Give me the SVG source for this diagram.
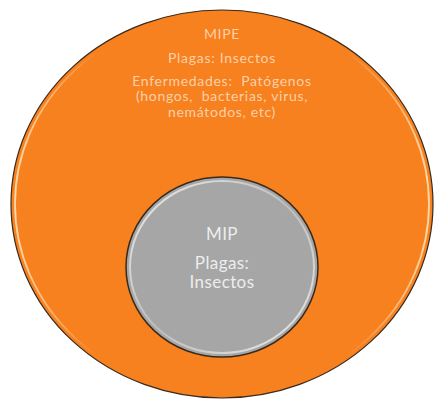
<svg xmlns="http://www.w3.org/2000/svg" width="434" height="400" viewBox="0 0 434 400">
<style>
.t1{font-family:Lato,"Open Sans","Liberation Sans",sans-serif;font-size:14px;letter-spacing:0.7px;fill:#FBD0A8;text-anchor:middle;white-space:pre}
.t2{font-family:Lato,"Open Sans","Liberation Sans",sans-serif;font-size:17px;letter-spacing:0.4px;fill:#EDEDED;text-anchor:middle}
</style>
<defs>
<linearGradient id="hl" x1="0" y1="0" x2="1" y2="0">
<stop offset="0" stop-color="#FFE2B8" stop-opacity="0.9"/>
<stop offset="0.2" stop-color="#FFE2B8" stop-opacity="0"/>
<stop offset="0.8" stop-color="#FFE2B8" stop-opacity="0"/>
<stop offset="1" stop-color="#FFE2B8" stop-opacity="0.9"/>
</linearGradient>
<linearGradient id="hl2" x1="0" y1="0" x2="1" y2="1">
<stop offset="0" stop-color="#F2F2F2" stop-opacity="0.9"/>
<stop offset="0.5" stop-color="#F2F2F2" stop-opacity="0.3"/>
<stop offset="1" stop-color="#F2F2F2" stop-opacity="0.9"/>
</linearGradient>
</defs>
<rect width="434" height="400" fill="#ffffff"/>
<g id="mipe">
<ellipse cx="222" cy="204" rx="211" ry="194" fill="#F7801F" stroke="#3A2A1C" stroke-width="1.2"/>
<ellipse cx="222" cy="204" rx="207" ry="190" fill="none" stroke="url(#hl)" stroke-width="1.8"/>
<text class="t1" x="222" y="39">MIPE</text>
<text class="t1" x="222" y="63">Plagas: Insectos</text>
<text class="t1" x="222" y="85.5">Enfermedades:  Patógenos</text>
<text class="t1" x="222" y="101">(hongos,  bacterias, virus,</text>
<text class="t1" x="222" y="116.5">nemátodos, etc)</text>
</g>
<g id="mip">
<ellipse cx="222" cy="267" rx="96" ry="90" fill="#A6A6A6" stroke="#3A2A1C" stroke-width="1.5"/>
<ellipse cx="222" cy="267" rx="92" ry="86" fill="none" stroke="url(#hl2)" stroke-width="2"/>
<text class="t2" x="222" y="240">MIP</text>
<text class="t2" x="222" y="269">Plagas:</text>
<text class="t2" x="222" y="288">Insectos</text>
</g>
<g id="connectors"/>
</svg>
